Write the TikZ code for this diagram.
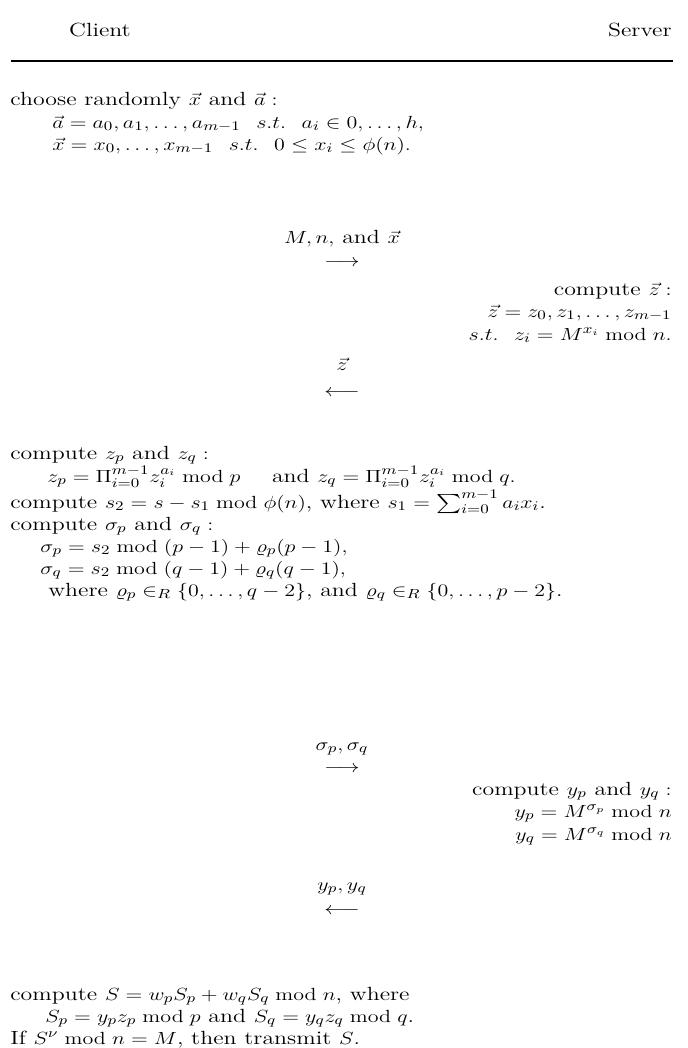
\documentclass[tikz,border=0pt]{standalone}
\usepackage{amsmath,amssymb,graphicx}
\newcommand{\sq}[1]{\scalebox{1}[0.8]{#1}}
\begin{document}
\begin{tikzpicture}[x=0.5455pt,y=-0.5455pt,
  every node/.style={font=\fontsize{13}{14}\selectfont},
  lt/.style={anchor=base west,inner sep=0pt},
  rt/.style={anchor=base east,inner sep=0pt},
  ct/.style={anchor=base,inner sep=0pt},
  rule/.style={line width=1.1pt}]
\useasboundingbox (0,0) rectangle (688,1048);
% header
\node[ct] (client) at (100,37) {\sq{Client}};
\node[rt] (server) at (672,37) {\sq{Server}};
\coordinate (rl) at (11,61);
\coordinate (rr) at (673,61);
\draw[rule] (rl) -- (rr);
% step 1 client
\node[lt] (c1) at (10,105) {\sq{choose randomly $\vec{x}$ and $\vec{a}:$}};
\node[lt] (c2) at (52,128) {\sq{$\vec{a}=a_0,a_1,\ldots,a_{m-1}\ \ s.t.\ \ a_i\in 0,\ldots,h,$}};
\node[lt] (c3) at (52,150) {\sq{$\vec{x}=x_0,\ldots,x_{m-1}\ \ s.t.\ \ 0\le x_i\le \phi(n).$}};
% message 1
\node[ct] (m1) at (342,243) {\sq{$M,n,$ and $\vec{x}$}};
\node[ct] (a1) at (342,266) {\sq{$\longrightarrow$}};
% server 1
\node[rt] (s1) at (672,295) {\sq{compute $\vec{z}:$}};
\node[rt] (s2) at (672,317) {\sq{$\vec{z}=z_0,z_1,\ldots,z_{m-1}$}};
\node[rt] (s3) at (672,340) {\sq{$s.t.\ \ z_i=M^{x_i}\bmod n.$}};
% message 2
\node[ct] (m2) at (342,370) {\sq{$\vec{z}$}};
\node[ct] (a2) at (342,396) {\sq{$\longleftarrow$}};
% client 2
\node[lt] (d1) at (10,459) {\sq{compute $z_p$ and $z_q:$}};
\node[lt] (d2) at (47,482) {\sq{$z_p=\Pi_{i=0}^{m-1}z_i^{a_i}\bmod p$\quad\ and $z_q=\Pi_{i=0}^{m-1}z_i^{a_i}\bmod q.$}};
\node[lt] (d3) at (10,508) {\sq{compute $s_2=s-s_1\bmod \phi(n)$, where $s_1=\sum_{i=0}^{m-1}a_ix_i$.}};
\node[lt] (d4) at (10,530) {\sq{compute $\sigma_p$ and $\sigma_q:$}};
\node[lt] (d5) at (40,552) {\sq{$\sigma_p=s_2\bmod (p-1)+\varrho_p(p-1),$}};
\node[lt] (d6) at (40,574) {\sq{$\sigma_q=s_2\bmod (q-1)+\varrho_q(q-1),$}};
\node[lt] (d7) at (48,596) {\sq{where $\varrho_p\in_R\{0,\ldots,q-2\}$, and $\varrho_q\in_R\{0,\ldots,p-2\}$.}};
% message 3
\node[ct] (m3) at (342,750) {\sq{$\sigma_p,\sigma_q$}};
\node[ct] (a3) at (342,772) {\sq{$\longrightarrow$}};
% server 2
\node[rt] (t1) at (672,795) {\sq{compute $y_p$ and $y_q:$}};
\node[rt] (t2) at (672,817) {\sq{$y_p=M^{\sigma_p}\bmod n$}};
\node[rt] (t3) at (672,840) {\sq{$y_q=M^{\sigma_q}\bmod n$}};
% message 4
\node[ct] (m4) at (342,890) {\sq{$y_p,y_q$}};
\node[ct] (a4) at (342,914) {\sq{$\longleftarrow$}};
% client 3
\node[lt] (e1) at (10,1000) {\sq{compute $S=w_pS_p+w_qS_q\bmod n$, where}};
\node[lt] (e2) at (45,1022) {\sq{$S_p=y_pz_p\bmod p$ and $S_q=y_qz_q\bmod q$.}};
\node[lt] (e3) at (10,1044) {\sq{If $S^\nu\bmod n=M$, then transmit $S$.}};
\end{tikzpicture}
\end{document}
